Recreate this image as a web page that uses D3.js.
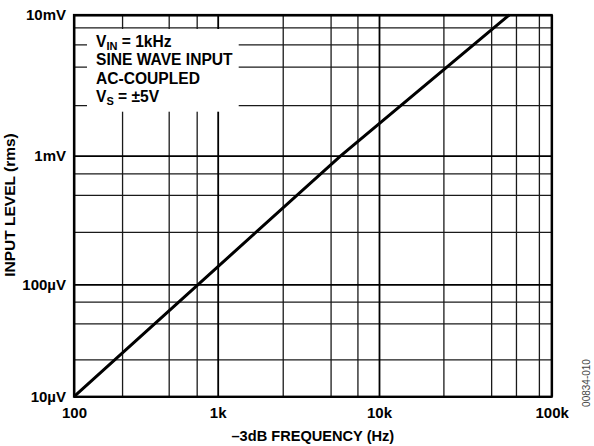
<!DOCTYPE html>
<html>
<head>
<meta charset="utf-8">
<script src="https://cdn.jsdelivr.net/npm/d3@7"></script>
<style>
  body { margin: 0; background: #fff; }
  text { font-family: "Liberation Sans", Arial, Helvetica, sans-serif; font-weight: bold; fill: #000; }
</style>
</head>
<body>
<div id="chart"></div>
<script>
// decade ticks and their labels
const xTicks = [100, 1000, 10000, 100000];
const xTickLabels = ['100', '1k', '10k', '100k'];
const yTicks = [10e-6, 100e-6, 1e-3, 10e-3];
const yTickLabels = ['10\u00b5V', '100\u00b5V', '1mV', '10mV'];

// minor grid lines
const xMinor = [216, 456, 714, 2530, 5010, 7350, 23600, 44600, 62100, 84300];
const yMinor = [21.5e-6, 45e-6, 70e-6, 256e-6, 495e-6, 730e-6, 2.29e-3, 4.29e-3, 6.19e-3, 8.18e-3];

// the curve: -3dB frequency (Hz) vs input level (V rms)
const freq = [100, 733, 5810, 56800];
const level = [10e-6, 100e-6, 1e-3, 10e-3];

const legendLines = [
  [['V', ''], ['IN', 'sub'], [' = 1kHz', '']],
  [['SINE WAVE INPUT', '']],
  [['AC-COUPLED', '']],
  [['V', ''], ['S', 'sub'], [' = \u00b15V', '']]
];

const width = 594;
const height = 446;
const plotL = 74, plotR = 551.7, plotT = 15, plotB = 396.7;

const svg = d3.select('#chart')
  .append('svg')
  .attr('width', width)
  .attr('height', height);

// the grid decades are not evenly spaced in the original, so piecewise log scales
const x = d3.scaleLog()
  .domain(xTicks)
  .range([plotL, 217.7, 379, plotR]);

const y = d3.scaleLog()
  .domain(yTicks)
  .range([plotB, 284.3, 155.7, plotT]);

// minor grid
svg.append('g')
  .attr('transform', `translate(0,${plotB})`)
  .call(d3.axisBottom(x).tickValues(xMinor).tickSize(-(plotB - plotT)).tickFormat(''))
  .call(g => g.select('.domain').remove())
  .selectAll('line').attr('stroke', '#1a1a1a').attr('stroke-width', 1.3);

svg.append('g')
  .attr('transform', `translate(${plotL},0)`)
  .call(d3.axisLeft(y).tickValues(yMinor).tickSize(-(plotR - plotL)).tickFormat(''))
  .call(g => g.select('.domain').remove())
  .selectAll('line').attr('stroke', '#1a1a1a').attr('stroke-width', 1.3);

// major grid + tick labels
svg.append('g')
  .attr('transform', `translate(0,${plotB})`)
  .call(d3.axisBottom(x).tickValues(xTicks).tickSize(-(plotB - plotT))
    .tickFormat((d, i) => xTickLabels[i]).tickPadding(10.5))
  .call(g => g.select('.domain').remove())
  .call(g => g.selectAll('line').attr('stroke', '#000').attr('stroke-width', 1.8))
  .call(g => g.selectAll('text').attr('font-size', 15).attr('fill', '#000'));

svg.append('g')
  .attr('transform', `translate(${plotL},0)`)
  .call(d3.axisLeft(y).tickValues(yTicks).tickSize(-(plotR - plotL))
    .tickFormat((d, i) => yTickLabels[i]).tickPadding(8))
  .call(g => g.select('.domain').remove())
  .call(g => g.selectAll('line').attr('stroke', '#000').attr('stroke-width', 1.8))
  .call(g => g.selectAll('text').attr('font-size', 15).attr('fill', '#000'));

// legend box knocks out the grid
svg.append('rect')
  .attr('x', 87).attr('y', 29)
  .attr('width', 151.7).attr('height', 82.7)
  .attr('fill', '#fff');

const legend = svg.append('g').attr('font-size', 15.6);
legendLines.forEach((parts, i) => {
  const t = legend.append('text')
    .attr('x', 96)
    .attr('y', 46.7 + i * 18.4);
  parts.forEach(([s, kind], j) => {
    const span = t.append('tspan').text(s);
    if (kind === 'sub') span.attr('font-size', 11).attr('dy', 3.5);
    else if (j > 0) span.attr('dy', -3.5);
  });
});

// frame
svg.append('rect')
  .attr('x', plotL).attr('y', plotT)
  .attr('width', plotR - plotL).attr('height', plotB - plotT)
  .attr('fill', 'none')
  .attr('stroke', '#000')
  .attr('stroke-width', 2.2);

// curve
const line = d3.line()
  .x((d, i) => x(freq[i]))
  .y((d, i) => y(level[i]));

svg.append('path')
  .datum(freq)
  .attr('d', line)
  .attr('fill', 'none')
  .attr('stroke', '#000')
  .attr('stroke-width', 3);

// axis titles
svg.append('text')
  .attr('transform', `translate(15,205) rotate(-90)`)
  .attr('text-anchor', 'middle')
  .attr('font-size', 15.5)
  .text('INPUT LEVEL (rms)');

svg.append('text')
  .attr('x', (plotL + plotR) / 2)
  .attr('y', 441)
  .attr('text-anchor', 'middle')
  .attr('font-size', 14.6)
  .text('\u20133dB FREQUENCY (Hz)');

svg.append('text')
  .attr('transform', 'translate(589.5,383) rotate(-90)')
  .attr('text-anchor', 'middle')
  .attr('font-size', 10)
  .style('font-weight', 'normal')
  .style('fill', '#444')
  .text('00834-010');
</script>
</body>
</html>
